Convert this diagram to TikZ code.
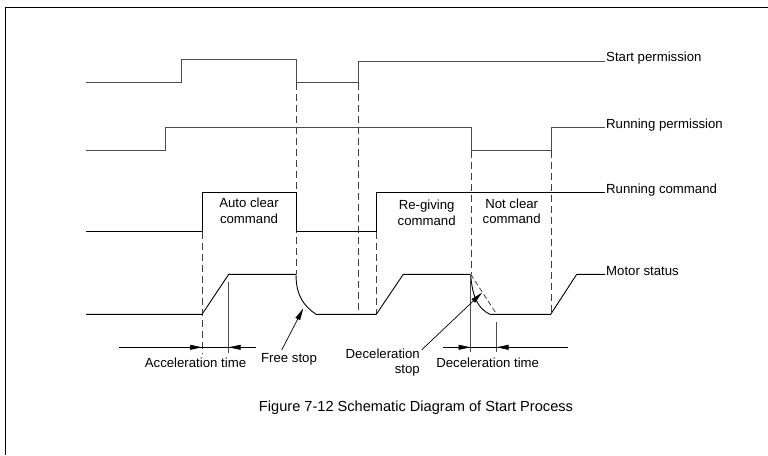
\documentclass[tikz,border=0pt]{standalone}
\usepackage{fontspec}
\setmainfont{Liberation Sans}
\usetikzlibrary{arrows.meta}
\tikzset{
  sig/.style={line width=0.9pt, line join=miter},
  sigg/.style={sig, draw=black!70},
  dash line/.style={line width=0.8pt, draw=black!75, dash pattern=on 7pt off 4pt},
  mark line/.style={line width=0.8pt, draw=black!70},
  lbl/.style={inner sep=0pt, font=\fontsize{13.2}{15.6}\selectfont},
  tip/.style={-{Triangle[length=12pt,width=5pt]}, line width=0.7pt},
}
\begin{document}
\begin{tikzpicture}[x=1pt,y=-1pt]
\useasboundingbox (0,0) rectangle (768,455);
% frame
\draw[line width=1.3pt] (5.3,455) -- (5.3,7.3) -- (768,7.3);

% dashed guide lines
\draw[dash line] (202,231.7) -- (202,353);
\draw[dash line] (296.5,82.7) -- (296.5,274.3);
\draw[dash line] (358.3,82.7) -- (358.3,314.3);
\draw[dash line] (376.3,231.7) -- (376.3,314.3);
\draw[dash line] (471,150.7) -- (471,274.3);
\draw[dash line] (551,150.7) -- (551,314.3);
\draw[dash line, dash pattern=on 5pt off 3pt] (470.7,274.3) -- (496.7,314.3);

% signals
\draw[sigg] (86,82.7) -- (181.7,82.7) -- (181.7,59.3) -- (296.7,59.3) -- (296.7,82.7)
  -- (358.3,82.7) -- (358.3,61.3) -- (605,61.3) coordinate (sp);
\draw[sigg] (86,150.7) -- (165.7,150.7) -- (165.7,127) -- (471,127) -- (471,150.7)
  -- (551,150.7) -- (551,127) -- (605,127) coordinate (rp);
\draw[sig] (86,231.7) -- (202,231.7) -- (202,192.3) -- (296,192.3) -- (296,231.7)
  -- (376.3,231.7) -- (376.3,192.3) -- (605,192.3) coordinate (rc);
\draw[sig] (86,314.3) -- (202,314.3) -- (228.7,274.3) -- (296,274.3)
  .. controls (296,296) and (304,306) .. (316,314.3)
  -- (376.3,314.3) -- (403.3,274.3) -- (470.7,274.3)
  .. controls (472,296) and (478,309) .. (490,314.3)
  -- (550.7,314.3) -- (576.7,274.3) -- (605,274.3) coordinate (ms);

% signal labels
\node[lbl, anchor=base west] (tsp) at ([xshift=1pt,yshift=-0.5pt]sp) {Start permission};
\node[lbl, anchor=base west] (trp) at ([xshift=1pt,yshift=-1pt]rp) {Running permission};
\node[lbl, anchor=base west] (trc) at ([xshift=1pt,yshift=-1.5pt]rc) {Running command};
\node[lbl, anchor=base west] (tms) at ([xshift=1pt,yshift=-1.5pt]ms) {Motor status};

% inner labels
\node[lbl, align=center] (auto) at (249,210.5) {Auto clear\\command};
\node[lbl, align=center] (regiv) at (426.7,212.7) {Re-giving\\command};
\node[lbl, align=center] (notc) at (511.7,211.3) {Not clear\\command};

% marker lines
\draw[mark line] (228.7,281.7) -- (228.7,353);
\draw[mark line] (470.5,274.3) -- (470.5,352);
\draw[mark line] (496.7,321.7) -- (496.7,352);

% acceleration time
\coordinate (a1) at (119.3,347.3);
\coordinate (a2) at (256,347.3);
\coordinate (at1) at (202,347.3);
\coordinate (at2) at (228.7,347.3);
\draw[line width=0.7pt] (a1) -- (a2);
\draw[tip] (a1) -- (at1);
\draw[tip] (a2) -- (at2);
\node[lbl] (acc) at (195.5,362.3) {Acceleration time};

% deceleration time
\coordinate (d1) at (443.3,347.3);
\coordinate (d2) at (568.3,347.3);
\coordinate (dt1) at (470.5,347.3);
\coordinate (dt2) at (496.7,347.3);
\draw[line width=0.7pt] (d1) -- (d2);
\draw[tip] (d1) -- (dt1);
\draw[tip] (d2) -- (dt2);
\node[lbl] (dec) at (487.7,362.3) {Deceleration time};

% free stop
\node[lbl, anchor=base] (fs) at (289,362.8) {Free stop};
\coordinate (fsp) at (303.3,308.3);
\draw[tip] (281.7,350) -- (fsp);

% deceleration stop
\node[lbl, align=right, anchor=east] (ds) at (420,362.5) {Deceleration\\stop};
\coordinate (dsp) at (482,292.7);
\draw[tip] (ds.north east) ++(1.7,1.5) -- (dsp);

% caption
\node[lbl, font=\fontsize{14.6}{17}\selectfont] (cap) at (416,408) {Figure 7-12 Schematic Diagram of Start Process};
\end{tikzpicture}
\end{document}
